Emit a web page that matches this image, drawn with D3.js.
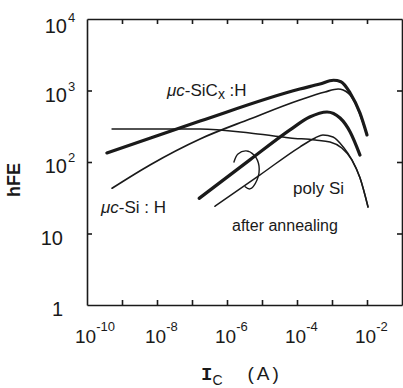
<!DOCTYPE html>
<meta charset="utf-8">
<style>
body { margin: 0; background: #fff; }
svg text { font-family: "Liberation Sans", Arial, sans-serif; fill: #1a1a1a; }
.axis path, .axis line { stroke: #1a1a1a; stroke-width: 1.6; fill: none; }
.curve { fill: none; stroke: #1a1a1a; stroke-linejoin: round; stroke-linecap: round; }
</style>
<script src="https://d3js.org/d3.v7.min.js"></script>
<body>
<div id="chart"></div>
<script>
// values: collector current Ic (A) and current gain hFE
var sicI  = [3.7e-10, 1.7e-7, 1.2e-4, 4.5e-4, 1.1e-3, 1.8e-3, 3.3e-3, 6.3e-3, 1e-2];
var sicH  = [134, 374, 1050, 1233, 1390, 1330, 923, 484, 239];

var siI   = [5.2e-10, 6.3e-9, 1.7e-7, 4.5e-6, 1.2e-4, 6.3e-4, 1.5e-3, 2.9e-3, 4.9e-3, 7.2e-3, 1e-2];
var siH   = [43, 91, 210, 399, 736, 953, 1050, 923, 627, 386, 239];

var polyI = [5.2e-10, 1.7e-7, 4.5e-6, 6.3e-5, 3.3e-4, 8.8e-4, 1.9e-3, 3.7e-3, 6.3e-3, 1.07e-2];
var polyH = [290, 290, 255, 217, 203, 191, 157, 107, 60, 23.5];

var annThickI = [1.6e-7, 4.5e-6, 6.3e-5, 2.3e-4, 7.2e-4, 1.7e-3, 3.3e-3, 6.3e-3];
var annThickH = [31, 107, 281, 426, 500, 412, 263, 125];

var annThinI = [4.5e-7, 8.8e-6, 1.2e-4, 3.3e-4, 5.5e-4, 1.07e-3, 2.1e-3, 3.7e-3, 6.3e-3, 1.07e-2];
var annThinH = [24, 66, 162, 217, 239, 224, 162, 107, 60, 23.5];

// little loop marking the annealed pair
var loopI = [1.58e-6, 2.06e-6, 3.5e-6, 5.9e-6, 8.2e-6, 7.2e-6, 4.5e-6, 3.3e-6];
var loopH = [100, 129, 143, 125, 88, 56, 42, 45];

var xLabelExp = [-10, -8, -6, -4, -2];
var xTickVals = [1e-9, 1e-8, 1e-7, 1e-6, 1e-5, 1e-4, 1e-3, 1e-2];
var yLabels = [["10", "4", 1e4], ["10", "3", 1e3], ["10", "2", 1e2], ["10", "", 10], ["1", "", 1]];
var yTickVals = [10, 100, 1000];

var W = 403, H = 388;
var mLeft = 87, mRight = 402, mTop = 19, mBottom = 305;

var svg = d3.select("#chart").append("svg")
    .attr("width", W).attr("height", H);

var x = d3.scaleLog().domain([1e-10, 1e-1]).range([mLeft, mRight]);
var y = d3.scaleLog().domain([1, 1e4]).range([mBottom, mTop]);

// frame with inward ticks
svg.append("g").attr("class", "axis")
  .attr("transform", "translate(0," + mBottom + ")")
  .call(d3.axisBottom(x).tickValues(xTickVals).tickSize(-5).tickSizeOuter(0).tickFormat(""));
svg.append("g").attr("class", "axis")
  .attr("transform", "translate(0," + mTop + ")")
  .call(d3.axisTop(x).tickValues(xTickVals).tickSize(-5).tickSizeOuter(0).tickFormat(""));
svg.append("g").attr("class", "axis")
  .attr("transform", "translate(" + mLeft + ",0)")
  .call(d3.axisLeft(y).tickValues(yTickVals).tickSize(-5).tickSizeOuter(0).tickFormat(""));
svg.append("g").attr("class", "axis")
  .attr("transform", "translate(" + mRight + ",0)")
  .call(d3.axisRight(y).tickValues(yTickVals).tickSize(-5).tickSizeOuter(0).tickFormat(""));

// x tick labels 10^n
xLabelExp.forEach(function(e) {
  var t = svg.append("text")
    .attr("x", x(Math.pow(10, e)) - 12)
    .attr("y", mBottom + 38)
    .style("font-size", "19px");
  t.append("tspan").text("10");
  t.append("tspan").attr("dy", -12).style("font-size", "13px").text("-" + (-e));
});

// y tick labels
yLabels.forEach(function(d) {
  var yy = y(d[2]) + (d[2] === 1e4 ? 14 : 11);
  svg.append("text")
    .attr("x", d[1] ? 67 : 63)
    .attr("y", yy)
    .attr("text-anchor", "end")
    .style("font-size", "20px")
    .text(d[0]);
  if (d[1]) {
    svg.append("text")
      .attr("x", 68).attr("y", yy - 11)
      .style("font-size", "13px")
      .text(d[1]);
  }
});

// axis titles
svg.append("text")
  .attr("transform", "translate(20,180) rotate(-90)")
  .attr("text-anchor", "middle")
  .style("font-size", "18px").style("font-weight", "bold")
  .text("hFE");

var xt = svg.append("text").attr("x", 201).attr("y", 380).style("font-size", "19px");
xt.append("tspan").style("font-family", "Liberation Mono, monospace").style("font-weight", "bold").text("I");
xt.append("tspan").attr("dy", 5).style("font-size", "14px").text("C");
xt.append("tspan").attr("dx", 25).attr("dy", -5).style("letter-spacing", "3px").text("(A)");

// curves
var line = d3.line()
  .x(function(d) { return x(d[0]); })
  .y(function(d) { return y(d[1]); })
  .curve(d3.curveMonotoneX);

function draw(I, Hv, w) {
  svg.append("path")
    .datum(d3.zip(I, Hv))
    .attr("class", "curve")
    .attr("stroke-width", w)
    .attr("d", line);
}
draw(polyI, polyH, 1.5);
draw(annThinI, annThinH, 1.5);
draw(siI, siH, 1.7);
draw(annThickI, annThickH, 3.2);
draw(sicI, sicH, 3.2);

svg.append("path")
  .datum(d3.zip(loopI, loopH))
  .attr("class", "curve")
  .attr("stroke-width", 1.4)
  .attr("d", d3.line().x(function(d) { return x(d[0]); }).y(function(d) { return y(d[1]); }).curve(d3.curveCatmullRom));

// curve labels
var l1 = svg.append("text").attr("x", 167).attr("y", 96).style("font-size", "17px");
l1.append("tspan").style("font-style", "italic").text("\u03bcc");
l1.append("tspan").text("-SiC");
l1.append("tspan").attr("dy", 3).style("font-size", "14px").text("x");
l1.append("tspan").attr("dy", -3).text(" :H");

var l2 = svg.append("text").attr("x", 101).attr("y", 213).style("font-size", "17px");
l2.append("tspan").style("font-style", "italic").text("\u03bcc");
l2.append("tspan").text("-Si : H");

svg.append("text").attr("x", 293).attr("y", 194).style("font-size", "17px").text("poly Si");
svg.append("text").attr("x", 232).attr("y", 231).style("font-size", "16px").text("after annealing");
</script>
</body>
